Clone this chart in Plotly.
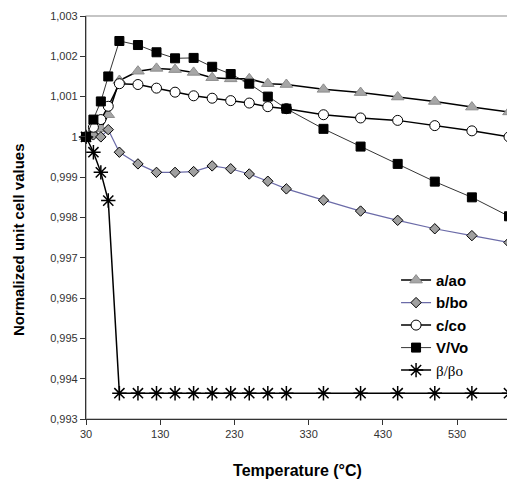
import plotly.graph_objects as go

temperature = [30, 40, 50, 60, 75, 100, 125, 150, 175, 200, 225, 250, 275, 300, 350, 400, 450, 500, 550, 600]

a_ao = [1.0, 1.0001, 1.0002, 1.00055, 1.0014, 1.00163, 1.0017, 1.00167, 1.0016, 1.00147, 1.00144,
        1.00144, 1.00132, 1.0013, 1.00118, 1.0011, 1.00099, 1.00088, 1.00074, 1.00062]
b_bo = [1.0, 1.00005, 1.0, 1.00018, 0.99962, 0.99933, 0.99912, 0.99912, 0.99914, 0.99928, 0.99921,
        0.99908, 0.9989, 0.99871, 0.99843, 0.99816, 0.99793, 0.99772, 0.99755, 0.99738]
c_co = [1.0, 1.00024, 1.00043, 1.00076, 1.00132, 1.0013, 1.00121, 1.00111, 1.00102, 1.00096, 1.0009,
        1.00084, 1.00075, 1.0007, 1.00055, 1.00047, 1.00041, 1.00028, 1.00015, 1.0]
v_vo = [1.0, 1.00043, 1.00088, 1.0015, 1.00238, 1.00228, 1.0021, 1.00195, 1.00196, 1.00174, 1.00156,
        1.00132, 1.001, 1.0007, 1.0002, 0.99976, 0.99933, 0.99889, 0.9985, 0.99803]
beta = [1.0, 0.99962, 0.99912, 0.99842, 0.99364, 0.99364, 0.99364, 0.99364, 0.99364, 0.99364, 0.99364,
        0.99364, 0.99364, 0.99364, 0.99364, 0.99364, 0.99364, 0.99364, 0.99364, 0.99364]

x_ticks = [30, 130, 230, 330, 430, 530]
y_ticks = [0.993, 0.994, 0.995, 0.996, 0.997, 0.998, 0.999, 1.0, 1.001, 1.002, 1.003]
y_tick_labels = ["0,993", "0,994", "0,995", "0,996", "0,997", "0,998", "0,999", "1", "1,001", "1,002", "1,003"]

# the c/co point at 300 °C is drawn filled in the original
c_colors = ["black" if t == 300 else "white" for t in temperature]

fig = go.Figure()
fig.add_trace(go.Scatter(
    x=temperature, y=a_ao, name="a/ao", mode="lines+markers", cliponaxis=False,
    line=dict(color="black", width=1.5),
    marker=dict(symbol="triangle-up", size=11, color="#a6a6a6", line=dict(color="#8c8c8c", width=1)),
))
fig.add_trace(go.Scatter(
    x=temperature, y=b_bo, name="b/bo", mode="lines+markers", cliponaxis=False,
    line=dict(color="#6b6ba8", width=1.2),
    marker=dict(symbol="diamond", size=8, color="#a0a0a0", line=dict(color="black", width=1)),
))
fig.add_trace(go.Scatter(
    x=temperature, y=c_co, name="c/co", mode="lines+markers", cliponaxis=False,
    line=dict(color="black", width=1.5),
    marker=dict(symbol="circle", size=10, color=c_colors, line=dict(color="black", width=1)),
))
fig.add_trace(go.Scatter(
    x=temperature, y=v_vo, name="V/Vo", mode="lines+markers", cliponaxis=False,
    line=dict(color="black", width=0.8),
    marker=dict(symbol="square", size=9, color="black", line=dict(color="black", width=1)),
))
fig.add_trace(go.Scatter(
    x=temperature, y=beta,
    name='<span style="font-family:Liberation Serif;font-weight:normal">β/βo</span>',
    mode="lines+markers", cliponaxis=False,
    line=dict(color="black", width=1.5),
    marker=dict(symbol="asterisk-open", size=12, color="black", line=dict(color="black", width=1.5)),
))

# the page body keeps its default 8px margin, so the figure is sized to fit the window
fig.update_layout(
    width=507, height=471,
    margin=dict(l=78, r=6, t=8, b=60),
    plot_bgcolor="white", paper_bgcolor="white",
    font=dict(family="Liberation Sans, Arial, sans-serif", color="#333333", size=11),
    showlegend=True,
    legend=dict(
        x=0.733, y=0.385, xanchor="left", yanchor="top",
        bgcolor="rgba(0,0,0,0)",
        font=dict(size=15, color="black", family="Liberation Sans, Arial, sans-serif", weight="bold"),
        tracegroupgap=0, itemwidth=30,
    ),
    shapes=[dict(type="rect", xref="paper", yref="paper", x0=0, y0=0, x1=1, y1=1,
                 line=dict(color="#8c8c8c", width=1.2), layer="below")],
    annotations=[dict(
        text="Normalized unit cell values", textangle=-90, showarrow=False,
        xref="paper", yref="paper", x=0, y=0.444, xanchor="center", yanchor="middle", xshift=-68,
        font=dict(size=15, color="black", family="Liberation Sans, Arial, sans-serif", weight="bold"),
    )],
)
fig.update_xaxes(
    range=[30, 600], tickvals=x_ticks, showgrid=False, zeroline=False, automargin=False,
    showline=True, linecolor="#333333", linewidth=1.2,
    ticks="outside", ticklen=5, tickcolor="#333333",
    title=dict(text="Temperature (°C)", standoff=25,
               font=dict(size=16, color="black", weight="bold")),
)
fig.update_yaxes(
    range=[0.993, 1.003], tickvals=y_ticks, ticktext=y_tick_labels, showgrid=False, zeroline=False,
    automargin=False,
    showline=True, linecolor="#333333", linewidth=1.2,
    ticks="outside", ticklen=5, tickcolor="#333333",
)

fig.write_html("out.html")
